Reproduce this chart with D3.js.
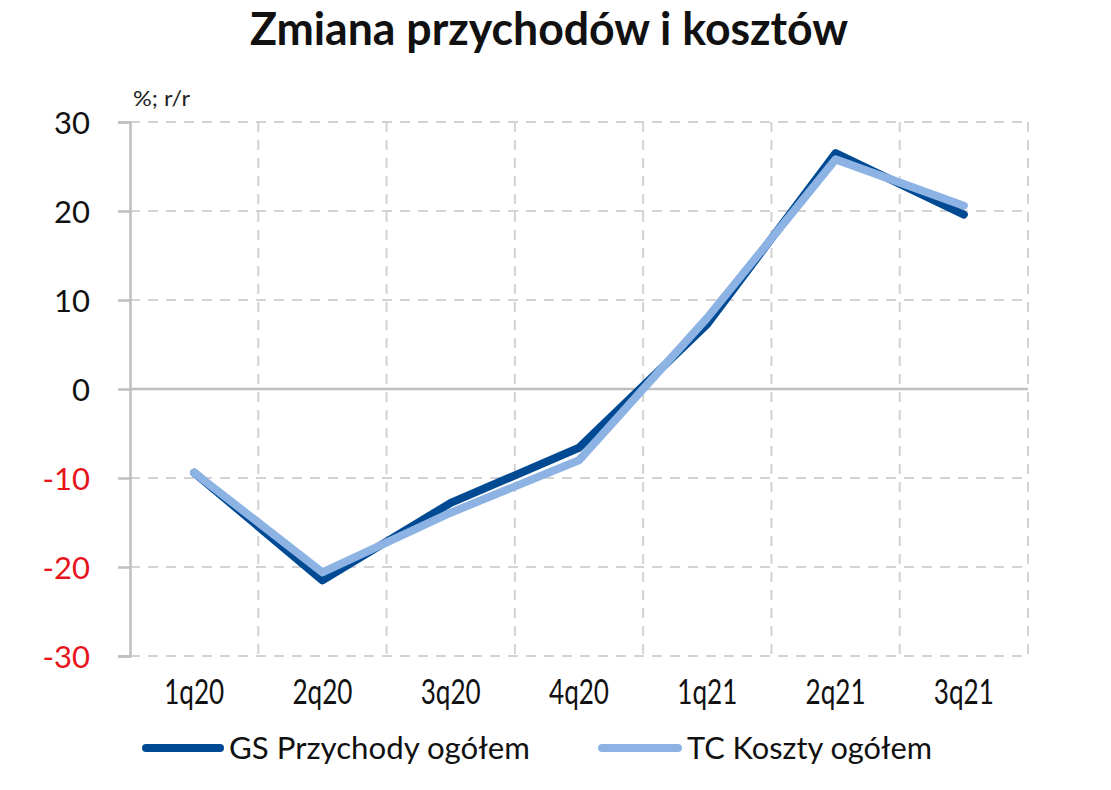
<!DOCTYPE html>
<html><head><meta charset="utf-8">
<script src="https://cdn.jsdelivr.net/npm/d3@7"></script>
<style>
body{margin:0;background:#fff;}
text{font-family:Lato,"Open Sans",sans-serif;}
</style></head>
<body><svg id="c" width="1111" height="790"></svg>
<script>
const categories = ["1q20","2q20","3q20","4q20","1q21","2q21","3q21"];
const gsValues = [-9.4, -21.5, -12.8, -6.6, 7.3, 26.5, 19.6];
const tcValues = [-9.4, -20.6, -13.9, -8.0, 8.0, 25.8, 20.6];
const yTicks = [-30,-20,-10,0,10,20,30];
const seriesNames = ["GS Przychody ogółem","TC Koszty ogółem"];
const colors = ["#004a93","#8cb3e3"];

const svg = d3.select("#c");
const L=130, R=1028, T=122, B=656;
const x = d3.scaleBand().domain(categories).range([L,R]);
const y = d3.scaleLinear().domain([-30,30]).range([B,T]);

// title
svg.append("text").attr("x",250).attr("y",45)
  .attr("font-size",45).attr("font-weight","bold").attr("fill","#111")
  .attr("textLength",598).attr("lengthAdjust","spacingAndGlyphs").text("Zmiana przychodów i kosztów");
svg.append("text").attr("x",133).attr("y",106).attr("font-size",21).attr("fill","#222")
  .attr("textLength",57).attr("lengthAdjust","spacingAndGlyphs").text("%; r/r");

// grid horizontal
svg.append("g").selectAll("line").data(yTicks.filter(d=>d!==0)).join("line")
  .attr("x1",L).attr("x2",R).attr("y1",d=>y(d)).attr("y2",d=>y(d))
  .attr("stroke","#d3d3d3").attr("stroke-width",2).attr("stroke-dasharray","10,8");
// grid vertical at category boundaries
const bounds = categories.slice(1).map(c=>x(c)).concat([R]);
svg.append("g").selectAll("line").data(bounds).join("line")
  .attr("x1",d=>d).attr("x2",d=>d).attr("y1",T).attr("y2",B)
  .attr("stroke","#d3d3d3").attr("stroke-width",2).attr("stroke-dasharray","10,8");

// y axis
const ya = svg.append("g").attr("transform",`translate(${L},0)`)
  .call(d3.axisLeft(y).tickValues(yTicks).tickFormat(d=>String(d)).tickSize(12).tickPadding(28));
ya.select(".domain").attr("stroke","#bfbfbf").attr("stroke-width",2.5);
ya.selectAll(".tick line").attr("stroke","#bfbfbf").attr("stroke-width",2.5);
ya.selectAll(".tick text").attr("font-size",31).attr("fill",d=>d<0?"#e8141c":"#111")
  .attr("dy","0.36em").style("font-family","Lato,sans-serif");

// zero line
svg.append("line").attr("x1",L).attr("x2",R).attr("y1",y(0)).attr("y2",y(0))
  .attr("stroke","#bfbfbf").attr("stroke-width",2.5);

// x labels
const xa = svg.append("g").attr("transform",`translate(0,${B})`)
  .call(d3.axisBottom(x).tickSize(0).tickPadding(24));
xa.select(".domain").remove();
xa.selectAll(".tick text").attr("font-size",34).attr("fill","#111")
  .attr("textLength",60).attr("lengthAdjust","spacingAndGlyphs")
  .style("font-family","Lato,sans-serif");

// lines
const line = d3.line().x((d,i)=>x(categories[i])+x.bandwidth()/2).y(d=>y(d));
svg.append("path").datum(gsValues).attr("d",line).attr("fill","none")
  .attr("stroke",colors[0]).attr("stroke-width",8).attr("stroke-linejoin","round").attr("stroke-linecap","round");
svg.append("path").datum(tcValues).attr("d",line).attr("fill","none")
  .attr("stroke",colors[1]).attr("stroke-width",8).attr("stroke-linejoin","round").attr("stroke-linecap","round");

// legend
const lg = [{x1:146,x2:220,tx:229,tl:301},{x1:602,x2:678,tx:687,tl:245}];
lg.forEach((p,i)=>{
  svg.append("line").attr("x1",p.x1).attr("x2",p.x2).attr("y1",748).attr("y2",748)
    .attr("stroke",colors[i]).attr("stroke-width",8).attr("stroke-linecap","round");
  svg.append("text").attr("x",p.tx).attr("y",759).attr("font-size",30).attr("fill","#111")
    .attr("textLength",p.tl).attr("lengthAdjust","spacingAndGlyphs").text(seriesNames[i]);
});
</script></body></html>
